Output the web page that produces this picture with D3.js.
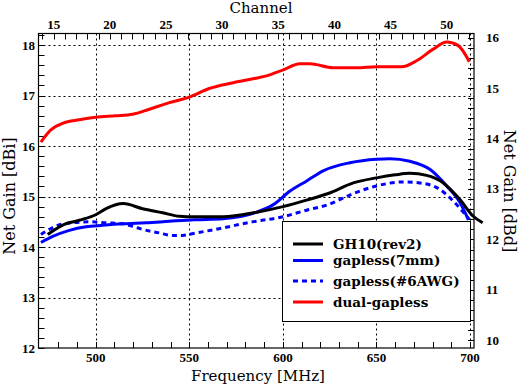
<!DOCTYPE html>
<html>
<head>
<meta charset="utf-8">
<script src="https://cdn.jsdelivr.net/npm/d3@7"></script>
<style>
  body { margin: 0; background: #fff; }
  svg { display: block; }
  text { font-family: "Liberation Serif", "Times New Roman", serif; }
  .title { font-family: "DejaVu Serif", "Liberation Serif", serif; font-size: 15px; }
  .ytitle { font-family: "DejaVu Serif", "Liberation Serif", serif; font-size: 16px; }
  .tick { font-family: "Liberation Serif", "Times New Roman", serif; font-size: 13px; font-weight: bold; }
  .legend { font-family: "DejaVu Serif", "Liberation Serif", serif; font-size: 13.5px; font-weight: bold; }
</style>
</head>
<body>
<script>
// data (frequency in MHz, net gain in dBi)
const freqGH10 = [474.3, 483.2, 491.2, 500, 505.5, 514.7, 525, 535.7, 544.6, 552.6, 568, 586, 600, 612.7, 624.2, 637.6, 650, 660, 667.8, 676.8, 685.7, 694.6, 701.7, 706.7];
const gainGH10 = [14.25, 14.45, 14.53, 14.64, 14.76, 14.86, 14.76, 14.68, 14.61, 14.60, 14.60, 14.69, 14.80, 14.93, 15.06, 15.27, 15.37, 15.43, 15.46, 15.42, 15.27, 14.94, 14.61, 14.48];

const freq7mm = [470.7, 477, 485.9, 494.8, 503.7, 514.4, 526.8, 539.3, 552.6, 568, 586, 594.9, 603.8, 612.7, 621.5, 635.8, 650, 657.2, 667.8, 678.5, 687.5, 694.6, 699.1];
const gain7mm = [14.09, 14.21, 14.33, 14.40, 14.43, 14.46, 14.48, 14.51, 14.54, 14.56, 14.69, 14.84, 15.11, 15.31, 15.51, 15.67, 15.74, 15.75, 15.70, 15.54, 15.21, 14.88, 14.54];

const freqAWG = [470.7, 475.2, 479.7, 487.7, 496.6, 505.5, 514.4, 519.7, 525, 533.9, 541.1, 546.4, 550.9, 568, 582.4, 600, 612.7, 624.2, 637.6, 650, 664.2, 673.2, 683.9, 691, 698.2, 699.5];
const gainAWG = [14.25, 14.35, 14.43, 14.48, 14.50, 14.48, 14.46, 14.41, 14.35, 14.28, 14.23, 14.23, 14.26, 14.38, 14.49, 14.60, 14.73, 14.84, 15.06, 15.21, 15.29, 15.27, 15.14, 14.91, 14.61, 14.55];

const freqDual = [470.7, 476, 482.3, 491.2, 500, 510.8, 519.7, 528.6, 539.3, 550, 560.6, 571.3, 584.7, 591.3, 600.2, 609.1, 614.4, 626.9, 639.4, 650, 663.4, 671.4, 680.3, 687.5, 693.7, 699.6];
const gainDual = [16.08, 16.32, 16.45, 16.52, 16.57, 16.60, 16.63, 16.73, 16.86, 16.97, 17.14, 17.24, 17.34, 17.39, 17.51, 17.63, 17.63, 17.55, 17.55, 17.57, 17.57, 17.69, 17.92, 18.06, 17.99, 17.67];

const seriesNames = ["GH10(rev2)", "gapless(7mm)", "gapless(#6AWG)", "dual-gapless"];
const seriesColors = ["#000000", "#0000ff", "#0000ff", "#ff0000"];
const seriesDash = [null, null, "5,4", null];

const freqTicks = [500, 550, 600, 650, 700];
const dbiTicks = [12, 13, 14, 15, 16, 17, 18];
const dbdTicks = [10, 11, 12, 13, 14, 15, 16];
const channelTicks = [15, 20, 25, 30, 35, 40, 45, 50];

const dBdOffset = 2.15;

const W = 519, H = 386;
const plot = { left: 38.5, right: 474, top: 33.5, bottom: 348 };

const x = d3.scaleLinear().domain([469.4, 702.1]).range([plot.left, plot.right]);
const y = d3.scaleLinear().domain([12, 18.23]).range([plot.bottom, plot.top]);
const yd = d3.scaleLinear().domain([12 - dBdOffset, 18.23 - dBdOffset]).range([plot.bottom, plot.top]);
// channel n centred at 477.5 + 6*(n-15) MHz
const chOf = f => 15 + (f - 477.5) / 6;
const xc = d3.scaleLinear().domain([chOf(469.4), chOf(702.1)]).range([plot.left, plot.right]);

const svg = d3.select("body").append("svg")
  .attr("width", W)
  .attr("height", H);

// grid
const grid = svg.append("g")
  .attr("stroke", "#000")
  .attr("stroke-width", 1)
  .attr("stroke-dasharray", "2,3");
grid.selectAll(".vg")
  .data(freqTicks)
  .join("line")
  .attr("x1", d => Math.round(x(d)) + 0.5).attr("x2", d => Math.round(x(d)) + 0.5)
  .attr("y1", plot.top).attr("y2", plot.bottom);
grid.selectAll(".hg")
  .data(dbiTicks.filter(d => d > 12))
  .join("line")
  .attr("x1", plot.left).attr("x2", plot.right)
  .attr("y1", d => Math.round(y(d)) + 0.5).attr("y2", d => Math.round(y(d)) + 0.5);

// minor ticks, all pointing inward
const ticks = svg.append("g").attr("stroke", "#000").attr("stroke-width", 1);
const tl = 6;
ticks.selectAll(".bt")
  .data(d3.range(480, 701, 10))
  .join("line")
  .attr("x1", d => Math.round(x(d)) + 0.5).attr("x2", d => Math.round(x(d)) + 0.5)
  .attr("y1", plot.bottom).attr("y2", plot.bottom - tl);
ticks.selectAll(".tt")
  .data(d3.range(14, 53))
  .join("line")
  .attr("x1", d => Math.round(xc(d)) + 0.5).attr("x2", d => Math.round(xc(d)) + 0.5)
  .attr("y1", plot.top).attr("y2", plot.top + tl);
ticks.selectAll(".lt")
  .data(d3.range(60, 92).map(d => d / 5))
  .join("line")
  .attr("x1", plot.left).attr("x2", plot.left + tl)
  .attr("y1", d => Math.round(y(d)) + 0.5).attr("y2", d => Math.round(y(d)) + 0.5);
ticks.selectAll(".rt")
  .data(d3.range(50, 81).map(d => d / 5))
  .join("line")
  .attr("x1", plot.right).attr("x2", plot.right - tl)
  .attr("y1", d => Math.round(yd(d)) + 0.5).attr("y2", d => Math.round(yd(d)) + 0.5);

// frame
svg.append("rect")
  .attr("x", plot.left).attr("y", plot.top)
  .attr("width", plot.right - plot.left).attr("height", plot.bottom - plot.top)
  .attr("fill", "none").attr("stroke", "#000").attr("stroke-width", 1.2);

// curves
const series = [
  { f: freqGH10, g: gainGH10 },
  { f: freq7mm, g: gain7mm },
  { f: freqAWG, g: gainAWG },
  { f: freqDual, g: gainDual }
];
const line = d3.line()
  .x(d => x(d[0]))
  .y(d => y(d[1]))
  .curve(d3.curveMonotoneX);
// dual first, GH10 last (on top)
[3, 2, 1, 0].forEach(i => {
  const s = series[i];
  svg.append("path")
    .datum(d3.zip(s.f, s.g))
    .attr("d", line)
    .attr("fill", "none")
    .attr("stroke", seriesColors[i])
    .attr("stroke-width", 3)
    .attr("stroke-dasharray", seriesDash[i]);
});

// legend
const leg = svg.append("g");
leg.append("rect")
  .attr("x", 282.5).attr("y", 221.5)
  .attr("width", 188).attr("height", 100)
  .attr("fill", "#fff").attr("stroke", "#000").attr("stroke-width", 1);
const legY = [244, 260.5, 281, 302];
seriesNames.forEach((name, i) => {
  leg.append("line")
    .attr("x1", 293).attr("x2", 323)
    .attr("y1", legY[i]).attr("y2", legY[i])
    .attr("stroke", seriesColors[i])
    .attr("stroke-width", 3)
    .attr("stroke-dasharray", seriesDash[i]);
  leg.append("text")
    .attr("class", "legend")
    .attr("x", 333).attr("y", legY[i] + 4.5)
    .text(name);
});

// tick labels
svg.append("g").selectAll("text")
  .data(freqTicks)
  .join("text")
  .attr("class", "tick")
  .attr("x", d => x(d)).attr("y", 362)
  .attr("text-anchor", "middle")
  .text(d => d);
svg.append("g").selectAll("text")
  .data(channelTicks)
  .join("text")
  .attr("class", "tick")
  .attr("x", d => xc(d)).attr("y", 29)
  .attr("text-anchor", "middle")
  .text(d => d);
svg.append("g").selectAll("text")
  .data(dbiTicks)
  .join("text")
  .attr("class", "tick")
  .attr("x", 35).attr("y", d => y(d) + 4.5)
  .attr("text-anchor", "end")
  .text(d => d);
svg.append("g").selectAll("text")
  .data(dbdTicks)
  .join("text")
  .attr("class", "tick")
  .attr("x", 486).attr("y", d => yd(d) + 4.5)
  .text(d => d);

// axis titles
svg.append("text")
  .attr("class", "title")
  .attr("x", 261).attr("y", 13)
  .attr("text-anchor", "middle")
  .text("Channel");
svg.append("text")
  .attr("class", "title")
  .attr("x", 258).attr("y", 381)
  .attr("text-anchor", "middle")
  .text("Frequency [MHz]");
svg.append("text")
  .attr("class", "ytitle")
  .attr("transform", "translate(15,196) rotate(-90)")
  .attr("text-anchor", "middle")
  .text("Net Gain [dBi]");
svg.append("text")
  .attr("class", "ytitle")
  .attr("transform", "translate(504,191) rotate(90)")
  .attr("text-anchor", "middle")
  .text("Net Gain [dBd]");
</script>
</body>
</html>
